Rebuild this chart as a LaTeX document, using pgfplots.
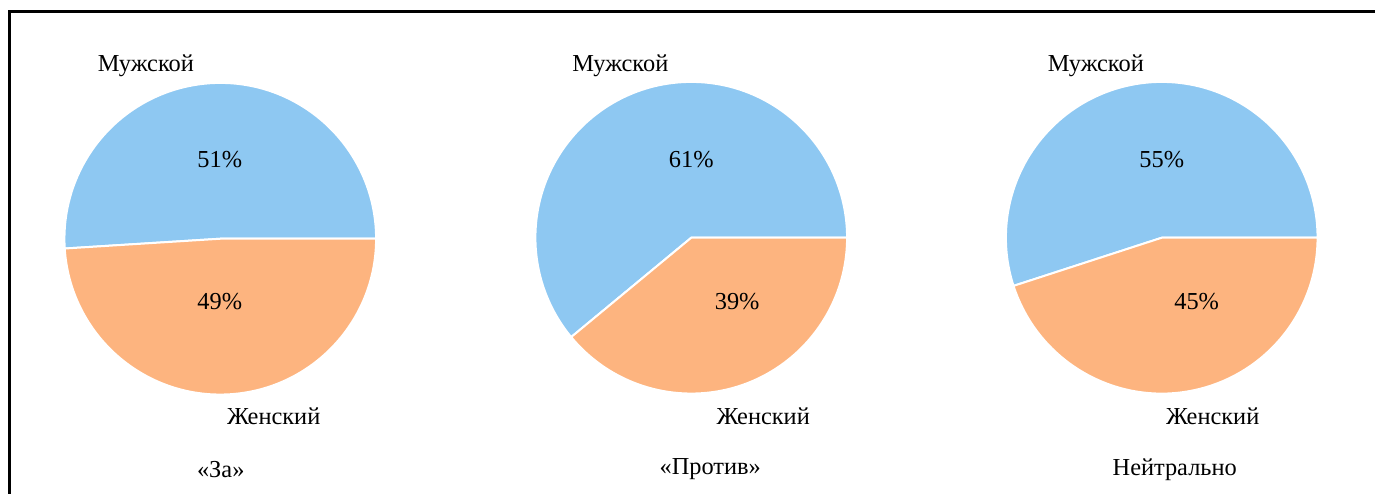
\documentclass[border=0pt]{standalone}
\usepackage{pgfplots}
\pgfplotsset{compat=1.18}
\usepackage{fontspec}
\setmainfont{Liberation Serif}

\definecolor{mblue}{HTML}{8EC8F2}
\definecolor{forange}{HTML}{FDB47F}
\tikzset{lbl/.style={font=\fontsize{12.2}{14}\selectfont}}

% one pie: centre x, centre y (pixels), share of men in %
\newcommand{\pie}[3]{%
  \fill[mblue, draw=white, line width=1pt] (axis cs:#1,#2) -- ++(0:78pt)
    arc[start angle=0, end angle={3.6*#3}, radius=78pt] -- cycle;
  \fill[forange, draw=white, line width=1pt] (axis cs:#1,#2) -- ++({3.6*#3}:78pt)
    arc[start angle={3.6*#3}, end angle=360, radius=78pt] -- cycle;
}

\begin{document}
\fontsize{12.2}{14}\selectfont
\begin{tikzpicture}
\begin{axis}[
    width=688pt, height=247.5pt,
    scale only axis,
    xmin=0, xmax=1376, ymin=0, ymax=495,
    y dir=reverse,
    hide axis,
    clip=false,
]
\addplot[draw=none] coordinates {(0,0) (1376,495)};

% frame (only top and left edges are visible)
\draw[line width=1.5pt] (axis cs:1376,12) -- (axis cs:10,12) -- (axis cs:10,495);

\pie{220.5}{239}{51}
\pie{692}{238}{61}
\pie{1163}{238}{55}

% labels, pie 1
\node[lbl] at (axis cs:146,66) {Мужской};
\node[lbl] at (axis cs:220,160) {51\%};
\node[lbl] at (axis cs:220,302) {49\%};
\node[lbl] at (axis cs:274,417) {Женский};
\node[lbl] at (axis cs:221,470) {«За»};

% labels, pie 2
\node[lbl] at (axis cs:621,66) {Мужской};
\node[lbl] at (axis cs:692,160) {61\%};
\node[lbl] at (axis cs:738,302) {39\%};
\node[lbl] at (axis cs:764,417) {Женский};
\node[lbl] at (axis cs:711,470) {«Против»};

% labels, pie 3
\node[lbl] at (axis cs:1097,66) {Мужской};
\node[lbl] at (axis cs:1163,160) {55\%};
\node[lbl] at (axis cs:1198,302) {45\%};
\node[lbl] at (axis cs:1214,417) {Женский};
\node[lbl] at (axis cs:1176,470) {Нейтрально};
\end{axis}
\end{tikzpicture}
\end{document}
